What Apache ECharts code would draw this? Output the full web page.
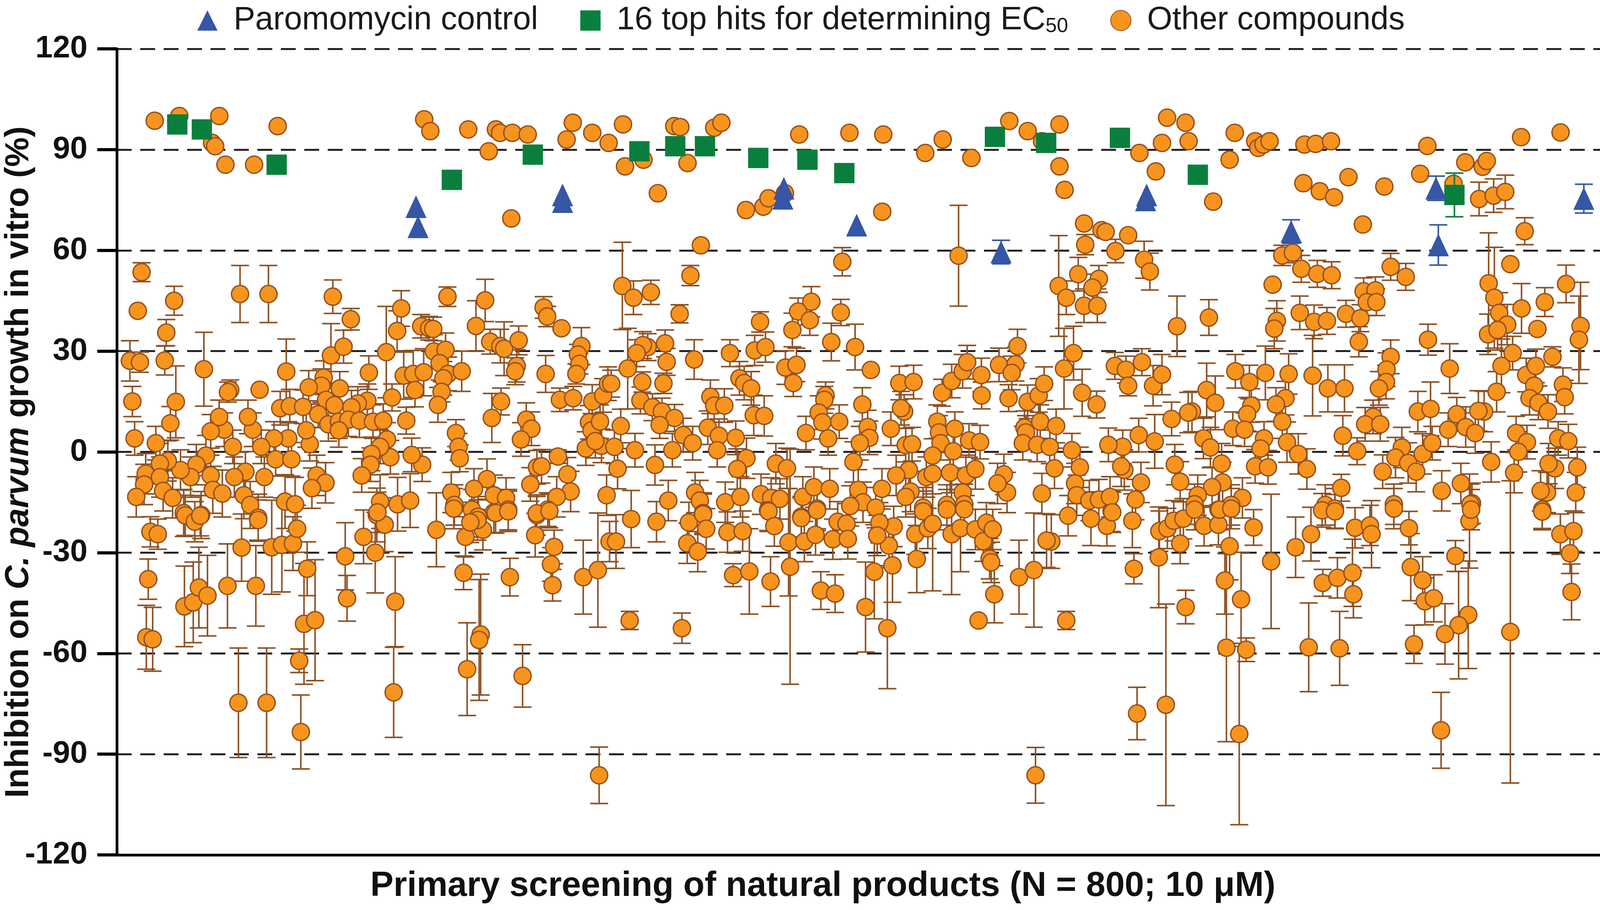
<!DOCTYPE html>
<html>
<head>
<meta charset="utf-8">
<script src="https://cdn.jsdelivr.net/npm/echarts@6/dist/echarts.min.js"></script>
<style>
  html, body { margin: 0; padding: 0; background: #fff; }
  #chart { width: 4112px; height: 2329px; }
</style>
</head>
<body>
<div id="chart"></div>
<script>
// position along the screening order (arbitrary units), inhibition %, error (+/-)
var yTicks = [-120, -90, -60, -30, 0, 30, 60, 90, 120];

var paromomycin = [
  [406, 73, 0], [408, 67, 0], [549, 76.5, 0], [549, 74.5, 0], [765, 78.5, 0], [764, 75.5, 0],
  [836, 67.5, 0], [977, 59.5, 3.5], [1119, 76.5, 0], [1118, 75, 0], [1260, 65.6, 3.5],
  [1401.4, 78.5, 3.6], [1403.7, 61.6, 6], [1545.7, 75.4, 4.3]
];

var topHits = [
  [173, 97.5, 0], [197, 96, 0], [270, 85.5, 0], [441, 81, 0], [520, 88.5, 0], [624, 89.5, 0],
  [659, 91, 0], [688, 91, 0], [740, 87.5, 0], [788, 87, 0], [824, 83, 0], [971, 93.8, 0],
  [1021, 92, 0], [1093, 93.5, 0], [1169, 82.5, 0], [1419.4, 76.5, 6.5]
];

// other compounds, high inhibition band
var otherHigh = [
  [151,98.6,0],[175,100,0],[207,92,0],[210,91,0],[214,100,0],[220,85.5,0],[248,85.5,0],[271,97,0],
  [414,99,0],[420,95.5,0],[457,96,0],[477,89.5,0],[484,96,0],[488,95,0],[499,69.5,0],[500,95,0],
  [515,94.5,0],[553,93,0],[559,98,0],[578,95,0],[594,92,0],[608,97.5,0],[610,85,0],[628,87,0],
  [642,77,0],[658,97,0],[664,96.7,0],[671,86,0],[684,61.5,0],[697,96.5,0],[704,98,0],[728,72,0],
  [745,73,0],[750,75.5,0],[766,77,0],[780,94.5,0],[829,95,0],[861,71.5,0],[862,94.5,0],[903,89,0],
  [920,93,0],[948,87.5,0],[985,98.5,0],[1003,95.5,0],[1017,92.5,0],[1034,97.5,0],[1034,85,0],
  [1039,78,0],[1058,68,0],[1075,66,0],[1079,65.5,0],[1101,64.5,0],[1112,89,0],[1128,83.5,0],
  [1134,92,0],[1139,99.5,0],[1157,98,0],[1160,92.5,0],[1184,74.5,0],[1200,87,0],[1205,95,0],
  [1225,92.5,0],[1228,90.5,0],[1233,91.5,0],[1239,92.5,0],[1273,91.5,0],[1284,91.7,0],[1299,92.5,0],
  [1272,80,0],[1288,77.6,0],[1302,75.8,0],[1316,81.8,0],[1330,67.7,0],[1351,79,0],[1393,91.1,0],
  [1386,82.8,0],[1418.6,79.8,0],[1430,86.2,0],[1447,84.9,0],[1451,86.6,0],[1443.5,75.3,5],
  [1457.7,76.3,5],[1469,77.4,5],[1484.5,93.7,0],[1523,95.1,0],[1488,65.7,4],[1474,55.9,0]
];

// other compounds, left third
var otherLeft = [
  [138.2,53.5,2.8],[134.5,42,0],[170,45,4.3],[234.3,47,8.5],[262,47,8.5],[324.8,46.2,5],[342.4,39.5,3.2],
  [162.3,35.5,3.9],[391.6,42.7,5.3],[387.6,36,6],[436.7,46.2,2.9],[473.5,45.1,6.3],[464.5,37.5,7.5],
  [411,37.4,3.5],[418.8,36.8,3.5],[422.8,36.6,3.5],[530.6,43,3.2],[534,40.3,3],[548,36.8,0],
  [478.4,32.8,3.7],[488.3,31.5,5],[492,30.7,8],[506.2,33.2,4.3],[567.4,31.5,5.5],[564,29,3],
  [565.5,26.2,3],[562.5,23.2,3],[504.3,25.6,4.8],[502.8,24,4],[532.5,23.2,5.5],[126.8,27.1,6],
  [136.6,26.7,3],[160.8,27.2,4.3],[199,24.6,11],[129.2,15,4.5],[171.6,14.9,10.7],[224.7,18.4,3],
  [222.5,17.8,3],[253.4,18.5,0],[279.4,23.9,9.7],[323,28.7,9.5],[335.3,31.3,4.9],[377,29.7,13.6],
  [360,23.6,5],[394,22.7,7],[403.3,23.2,7],[413.5,23.7,7],[423.4,29.9,5],[434.8,30.4,5],[429,26.4,5],
  [437.3,23.2,5],[432.7,21.9,5],[450.6,24,6],[405,18.4,5],[431,17.9,3],[427.4,14,5.2],[382.6,16.2,4],
  [315.9,22.1,5],[313.7,19.7,5],[301.3,19.2,5],[331.6,18.9,5],[318.3,15.5,5],[326.4,13.9,5],
  [358.5,15.2,5],[349.2,14.4,5],[343,13.3,5],[273.5,13,5],[282.8,13.6,5],[295.8,13.4,5],[310.6,11.2,4],
  [320.5,8.2,5],[330.7,9,5],[340,9.6,5],[330.7,6.4,5],[350.8,9.3,5],[364,9,5],[374,9.3,5],[396.5,9.3,4],
  [445,5.6,4],[447.5,1.5,4],[448.7,-1.9,4],[480,10.1,7.3],[489,15,4],[513.6,9.6,5],[518.6,6.9,5],
  [508.4,3.7,5],[546.4,15.5,3.5],[559.4,16,3.5],[578,15,5],[588.7,16.8,5],[593.3,20.3,5],[574.8,8.8,5],
  [577.3,6.4,5],[585.6,9,5],[571.7,1,5],[587,1.8,5],[581,3.2,5],[544.5,-1.4,2],[553.8,-6.7,5],
  [556.9,-11.8,6],[543.3,-13.4,6],[534.6,-17.2,5],[524,-4.6,5],[528.5,-4.3,5],[517.6,-9.7,5],
  [524,-18.8,6],[592,-12.9,6],[475.3,-8.1,6],[462.6,-11,6],[482,-12.9,6],[493.9,-13.7,6],[496,-17.2,6],
  [482,-18,6],[460.5,-17.2,6],[466.7,-19.3,6],[440.4,-12.1,6],[443.5,-15.8,6],[412,-3.8,5],[401.8,-0.9,5],
  [381,-1.6,5],[377.7,3.7,5],[370.9,1.5,5],[362.5,-0.6,5],[361.6,-3.8,5],[353,-7,5],[371,-14.8,8],
  [388,-15.6,8],[400.3,-14.5,8],[367.8,-18.8,8],[309,-7,6],[317.7,-9.2,6],[304.4,-10.8,6],[302.3,2.3,5],
  [298.9,6.4,5],[281.3,4,5],[267.4,4,5],[255,1.5,5],[269,-2.2,5],[284.4,-2.2,5],[278.2,-14.8,8],
  [288,-15.6,8],[246.7,6.6,5],[242,10.4,5],[227.2,1.5,5],[218.8,6.6,5],[205.6,6.1,5],[213.9,10.4,5],
  [239.5,-5.9,6],[228.7,-7.5,6],[258,-7.5,6],[238,-12.9,7],[244.2,-15.8,7],[252,-19.6,7],[201,-1.1,6],
  [191.6,-3.8,6],[186,-7.5,6],[176.2,-5.4,6],[205.6,-7,6],[207.7,-11.3,7],[217,-12.4,7],[166.3,8.5,5],
  [152.1,2.6,5],[131.4,4,5],[163.8,-2.7,6],[156.1,-3.5,6],[142.2,-6.5,6],[140.7,-9.7,6],[133,-13.4,6],
  [156.1,-7.5,6],[159.2,-11.6,6],[168.5,-13.7,6],[179.3,-18.2,7],[196.3,-18.8,7],
  [146.8,-23.8,4.5],[154,-24.5,4.5],[144.7,-37.9,6],[142.8,-55.2,9.5],[149,-55.8,9.5],[180,-46,12],
  [188.6,-44.8,12],[194.1,-40.4,12],[202.5,-42.8,12],[180.8,-18.9,6],[190.1,-20.8,6],[195.4,-19,6],
  [235.8,-28.5,10],[222,-39.9,12.5],[249.7,-39.9,12],[252,-20.3,6],[265.2,-28.4,14],[275.1,-27.7,14],
  [285.9,-27.3,8],[290,-22.9,7],[299.8,-34.8,8],[296.7,-51.2,18],[307.5,-50.1,18],[292,-62.2,3.5],
  [232.7,-74.7,16.3],[260.2,-74.7,16.3],[293.6,-83.4,11],[336.9,-31.1,10],[338.7,-43.6,6.8],
  [354.8,-25.3,8],[366.2,-30,12],[375.5,-21.7,8],[368.4,-18,6],[385.7,-44.6,13.4],[384.2,-71.6,13.4],
  [425.9,-23.2,11],[442.9,-16.9,6],[454.3,-25.3,6],[452.4,-36,5],[471.3,-23.2,6],[466,-20.3,6],
  [459,-21,6],[483.7,-18.2,6],[496,-17.7,6],[469.1,-54.4,18],[467.6,-56,18],[455.9,-64.7,13.8],
  [497.6,-37.3,5.6],[510,-66.7,9.3],[522.3,-24.8,6.5],[523.8,-18.3,5],[536.2,-17.6,5],[540.8,-28.3,5],
  [537.7,-33.5,5],[539.3,-39.7,4.7],[569.2,-37.3,11],[583.5,-35.2,17],[594.9,-26.7,6],[584.7,-96.3,8.4]
];

// other compounds, middle third
var otherMid = [
  [607.4,49.4,13],[618.2,45.9,5],[635.2,47.5,3.6],[673.8,52.5,3],[822,56.6,4.2],[935.5,58.4,15],
  [663.3,41.1,2.7],[741.8,38.7,3],[791.8,44.7,4.5],[778.9,41.8,4],[790.3,39.2,4.5],[773.3,36.3,5],
  [820.6,41.5,3.9],[811.3,32.7,5.6],[834.5,31.2,6.8],[849.9,24.4,0],[632.1,31.2,4],[627.4,31.8,4],
  [621.3,29.4,4],[649.1,32.3,4],[612.6,24.8,12],[650.6,26.8,4],[677.5,27.5,5.9],[626.8,20.8,3],
  [647.5,20.4,3],[596.5,20.3,4],[625,15.3,4],[636.7,13.3,4],[646,12,4],[658.3,10.1,4],[643.8,8,4],
  [605.8,7.7,5],[599.6,1.5,5],[619.7,0.5,5],[666.7,5,5],[676,2.6,5],[656.2,0.5,5],[602.7,-5,6],
  [639.2,-3.9,6],[652.2,-14.5,6],[678.4,-12.1,6],[683,-14.5,6],[686.2,-18.2,6],[712.4,29.4,4],
  [736.5,30.2,4.5],[747,31.2,4.5],[721.7,21.9,5],[726.3,20.5,5],[733.1,18.9,5],[693.3,16.4,5],
  [697,13.8,5],[706.9,13.8,5],[735.6,10.9,6],[745.8,10.7,6],[690.8,7.2,5],[701.6,4.8,5],[718,4.2,5],
  [700,0.5,5],[728.5,-1.9,6],[719.5,-5.1,6],[707.8,-15,6],[722.6,-13.4,6],[766.5,25.1,5],[777.3,25.9,5],
  [774.2,20.5,4],[805.7,16.8,4],[804.5,15.5,4],[799,11.7,5],[802.6,8.8,5],[819,9,5],[786.6,5.6,5],
  [808.2,4,5],[757.2,-3.5,6],[768,-4.9,6],[742.7,-12.6,6],[752.6,-13.7,6],[761.2,-14,6],[783.5,-13.4,6],
  [794.3,-10.5,6],[809.8,-11,6],[782,-19.3,6],[797.4,-16.9,6],[749.5,-17.4,6],[841.6,14.1,5],
  [846.8,7.4,5],[848.4,4.2,5],[839.1,2.6,5],[832.9,-3,6],[837.6,-11.3,6],[842.2,-15,6],[829.8,-16.1,6],
  [854.6,-16.6,6],[860.7,-11,6],[869.4,6.9,5],[877.7,20.5,5],[891.6,20.8,5],[882.4,12,5],[879.3,13,5],
  [883.9,2,5],[890.1,2.3,5],[887,-5.4,6],[874.6,-7,6],[888.6,-11.8,6],[883.9,-13.4,6],[900.9,-16.6,6],
  [919.4,17.6,4],[914.8,9,5],[916.4,5.8,5],[917.9,2.6,5],[910.2,-1.1,5],[931.8,6.9,5],[930.3,0.2,5],
  [904,-7.5,6],[910.2,-6.5,6],[927.2,-6.2,6],[942.6,-7,6],[951.9,-5.1,6],[924.1,-15.8,6],[939.5,-12.1,6],
  [941.1,-15.6,6],[928.8,21.1,5],[939.5,24,5],[943.9,26.7,5],[957.7,22.9,5],[958,16.8,4],[945.7,3.4,5],
  [956.5,2.9,5],[975,25.9,5],[991.1,26.1,5],[993,31.5,5],[987.4,23.5,5],[984.3,16,4],[979.7,-6.7,6],
  [982.8,-12.1,6],[973.5,-9.4,6],[1002.9,14.9,5],[1013.7,16.8,5],[1019,20.3,5],[999.8,7.2,5],
  [1001.3,5.8,5],[1015.2,9,5],[1030.7,7.7,5],[998.2,2.6,5],[1012.2,2.1,5],[1024.5,1.5,5],[1029.1,-4.9,6],
  [1016.8,-12.4,6],[1033.2,49.4,15],[1040.6,45.9,5],[1052.3,52.9,5],[1072.4,51.5,4],[1066.2,48.9,4],
  [1057.9,43.5,5],[1070.9,43.5,5],[1059.1,61.7,3],[1038.4,24.8,12],[1047.7,29.4,8],[1056.1,17.6,7],
  [1070.2,14.1,4],[1046.1,0.5,5],[1053.9,-4.6,6],[1049.2,-9.4,6],[1050.8,-12.9,6],[1063.1,-14.5,6],
  [1072.4,-14.2,6],[1042.4,-19,6],
  [601.2,-26.7,8],[616,-20,8.5],[640.7,-20.8,6],[672.3,-21,6],[686.2,-18.6,6],[689.2,-22.9,6],
  [670.7,-27.2,6],[681,-29.7,6],[710,-23.9,6],[724.8,-23.6,6],[715.5,-36.7,3.4],[731.3,-35.6,12.7],
  [752,-38.6,7.4],[750.1,-17.7,6],[755.7,-22.1,6],[769.6,-26.9,16],[771.1,-34.2,35],[782,-19.7,6],
  [785,-26.7,6],[795.9,-24.7,6],[797.4,-17.4,6],[801.1,-41.3,5.6],[815,-42.2,5.6],[812.8,-26,6],
  [817.5,-20.8,6],[826.1,-21.4,6],[827.4,-25.9,6],[844.7,-46.2,13.4],[853.3,-35.7,14],[866,-52.5,18],
  [871,-33.8,11],[867.5,-27.9,6],[872.2,-22.2,6],[858.3,-21.1,6],[856.1,-24.9,6],[894.7,-31.9,10],
  [893.2,-24.5,6],[900.9,-17.7,6],[905.5,-22.8,6],[910.2,-21.4,20],[928.7,-24.5,18],[937.4,-22.7,13],
  [924.1,-17.2,6],[941.1,-17.1,6],[951.9,-23.1,6],[959.6,-26.6,6],[962.7,-21.1,6],[968.9,-23.1,6],
  [965.8,-31.8,6],[967.3,-32.9,6],[970.4,-42.4,8.5],[955,-50.2,0],[994.5,-37.3,11],[1009,-35.2,17],
  [1026,-26.7,8],[1021.4,-26.4,8],[1064.7,-19.9,8],[1040.6,-50.2,2.7],[614.5,-50.2,2.7],
  [665.5,-52.5,4.5],[1010.6,-96.3,8.3]
];

// other compounds, right third
var otherRight = [
  [1088.6,59.8,3.5],[1116.6,57.2,5.5],[1122.2,53.7,5.5],[1251.4,58.5,3],[1261.7,59.3,3],[1270,54.5,4],
  [1285.6,53,4],[1299.6,52.6,4],[1242,49.8,0],[1357.2,55.1,4],[1371.9,52.1,4],[1330.8,47.8,4],
  [1342.3,48.1,4],[1333.9,44.6,4],[1343.2,44.6,4],[1452.8,50.2,15],[1458.4,45.9,15],[1463.1,41.4,6],
  [1470.9,37.9,6],[1452.2,35,6],[1461.5,36.3,6],[1484.9,42.7,7.4],[1507.6,44.6,4.3],[1528.4,50,5.6],
  [1500.4,36.6,0],[1542.5,37.5,13],[1540.9,33.4,13],[1148.7,37.4,9],[1179.8,40,5.3],[1246.1,39,6],
  [1243.6,36.7,6],[1268.5,41.4,5],[1282.5,38.7,5],[1295,39,4],[1313.6,41.1,4],[1327.7,39.8,4],
  [1326.1,32.8,4.5],[1393.6,33.4,4.6],[1414.8,24.8,7.4],[1357.2,28.3,5],[1353.2,24.5,5],[1352.6,20.8,5],
  [1345.7,18.9,5],[1088,25.6,4],[1098.8,24.5,4],[1114.4,26.7,4],[1101,19.7,3],[1125.3,19.7,6],
  [1134,23,6],[1177.6,18.4,8],[1186,14.6,8],[1163.3,12,6],[1159.6,11.7,6],[1205.6,24,5],[1219.3,20.8,5],
  [1234.9,23.5,8],[1257.6,23.2,6],[1281,22.7,12],[1295.9,18.9,7],[1312.1,18.9,7],[1221.2,13.8,5],
  [1217.1,11.2,5],[1254.5,16,5],[1245.2,14.1,5],[1251.4,9,5],[1143.4,9.8,5],[1111.3,5,5],[1126.9,3.1,8],
  [1095.7,1.5,5],[1081.7,2.1,5],[1097.3,-5.4,6],[1094.2,-4.3,6],[1146.5,-3.8,6],[1151.8,-8.9,6],
  [1113.5,-9.1,6],[1108.2,-14.2,6],[1084.8,-17.7,6],[1083.3,-13.4,6],[1174.5,4,6],[1181.3,1.3,6],
  [1192.2,-3.5,6],[1193.2,-9.1,6],[1182.9,-10.5,6],[1168.9,-12.9,6],[1165.8,-15.6,6],[1212.5,-13.7,6],
  [1201.6,-15.8,6],[1189.1,-17.2,6],[1203.1,6.9,5],[1214.6,6.6,5],[1233.6,4,5],[1230.2,1,5],
  [1224.9,-4.3,5],[1237.4,-4.6,5],[1256,2.9,6],[1267,-0.6,6],[1275.4,-5.1,6],[1310.5,4.8,6],
  [1324.5,0.2,4],[1309,-10.7,4],[1293.4,-15.8,6],[1302.8,-16.9,6],[1340.1,10.4,5],[1332.3,8.2,5],
  [1347,8.2,5],[1368.1,1.3,6],[1361.9,-1.7,6],[1374.3,-3.3,6],[1382.1,-5.9,6],[1388.4,-0.6,6],
  [1349.4,-5.9,5],[1360.3,-15.6,6],[1383.7,12,6],[1396.1,12.8,8],[1397.7,2.6,5],[1413.3,6.6,5],
  [1421.7,11.2,5],[1430.4,7.4,6],[1439.7,5.6,6],[1448.4,12,6],[1442.8,12.2,6],[1407,-11.6,6],
  [1425.7,-9.4,6],[1436.6,-15.3,6],[1455.3,-3,6],[1460.6,17.9,6],[1465.3,25.6,8],[1476.2,29.4,5],
  [1479.6,5.6,5],[1490.2,2.9,5],[1481.8,0,6],[1477.7,-6.2,6],[1489.5,22.9,5],[1497.3,19.7,5],
  [1498.9,25.6,5],[1492.7,16,5],[1501.4,14.6,5],[1510.7,12,5],[1515.1,28.3,3],[1525.3,20,5],
  [1527,16.3,5],[1520.7,4,5],[1530.6,3.2,5],[1517.6,-4.9,6],[1539.3,-4.6,6],[1511.3,-3.5,6],
  [1509.8,-12.1,6],[1503.5,-11.6,6],[1537.8,-12.1,6],[1505.1,-17.2,6],[1435,-15.6,6],
  [1080.2,-22,6],[1085.5,-18,6],[1105.1,-20.5,8],[1106.6,-34.8,4.5],[1130.9,-31.4,15],[1131.5,-23.6,6],
  [1139.3,-22.8,6],[1145.5,-20.5,6],[1154.9,-19.9,6],[1151.8,-27.3,6],[1157.1,-46.2,5],
  [1137.8,-75.3,30],[1109.7,-77.9,7.8],[1165.8,-17.2,6],[1175.1,-22,6],[1189.1,-21.7,6],
  [1190.1,-17.2,6],[1201.6,-16.9,6],[1200,-28.1,10],[1195.4,-38.3,10],[1211.2,-43.9,14],
  [1223.4,-22.5,5.3],[1196.9,-58.3,28],[1216.2,-58.9,3.5],[1209.4,-84,27],[1240.5,-32.6,20],
  [1264.4,-28.4,9],[1279.4,-24.5,8],[1277.2,-58.2,13.2],[1307.4,-58.5,11],[1290.9,-39,4],
  [1305.2,-37.5,6],[1319.9,-36,10],[1320.8,-42.4,7],[1290.3,-17.4,5],[1302.8,-17.7,5],
  [1322.4,-22.6,6],[1337,-21.9,6],[1338.5,-24.5,10],[1360.3,-16.9,6],[1375,-22.7,5],
  [1376.8,-34.3,10],[1388.4,-38.2,7],[1390.5,-44.5,7],[1399.3,-43.6,7],[1380,-57.3,5.7],
  [1420.4,-31,4.6],[1434.1,-20.6,14],[1432.9,-48.5,16],[1423.5,-51.6,16],[1410.2,-54.2,9],
  [1406.4,-82.9,11.3],[1435.7,-17.2,6],[1474,-53.6,45],[1505.1,-17.8,5],[1522.8,-24.5,6],
  [1535.6,-23.6,6],[1532.2,-30.2,6],[1533.7,-41.7,8.3]
];

var otherCompounds = otherHigh.concat(otherLeft, otherMid, otherRight);

var PARO = 'Paromomycin control';
var HITS = '16 top hits for determining EC50';
var OTHER = 'Other compounds';

var chart = echarts.init(document.getElementById('chart'));

function errorBars(color) {
  return function (params, api) {
    var e = api.value(2);
    if (!e) return;
    var x = api.value(0), y = api.value(1);
    var top = api.coord([x, y + e]);
    var bot = api.coord([x, y - e]);
    var hw = 23;
    var st = { stroke: color, lineWidth: 4 };
    return {
      type: 'group',
      children: [
        { type: 'line', shape: { x1: top[0], y1: top[1], x2: bot[0], y2: bot[1] }, style: st },
        { type: 'line', shape: { x1: top[0] - hw, y1: top[1], x2: top[0] + hw, y2: top[1] }, style: st },
        { type: 'line', shape: { x1: bot[0] - hw, y1: bot[1], x2: bot[0] + hw, y2: bot[1] }, style: st }
      ]
    };
  };
}

var orangeFill = '#F7941D', orangeEdge = '#94501E', barBrown = '#8E5225';
var green = '#0A7F3D', blue = '#3656A6';

var option = {
  animation: false,
  backgroundColor: '#fff',
  textStyle: { fontFamily: 'Liberation Sans, Arial, sans-serif' },
  grid: { left: 299, right: 12, top: 125, bottom: 141, containLabel: false, outerBoundsMode: 'none' },
  legend: {
    data: [PARO, HITS, OTHER],
    left: 500,
    top: 6,
    itemWidth: 52,
    itemHeight: 52,
    itemGap: 108,
    formatter: function (name) {
      return name === HITS ? '16 top hits for determining EC{sub|50}' : name;
    },
    textStyle: {
      fontSize: 83,
      color: '#1a1a1a',
      padding: [0, 0, 0, 36],
      rich: {
        sub: { fontSize: 52, verticalAlign: 'bottom', lineHeight: 40, color: '#1a1a1a' }
      }
    }
  },
  xAxis: {
    type: 'value',
    min: 114,
    max: 1563,
    name: 'Primary screening of natural products (N = 800; 10 \u03bcM)',
    nameLocation: 'middle',
    nameGap: 36,
    nameMoveOverlap: false,
    nameTextStyle: { fontSize: 89, fontWeight: 'bold', color: '#111', padding: [0, 186, 0, 0] },
    axisLine: { show: true, onZero: false, lineStyle: { color: '#000', width: 7 } },
    axisTick: { show: false },
    axisLabel: { show: false },
    splitLine: { show: false }
  },
  yAxis: {
    type: 'value',
    min: yTicks[0],
    max: yTicks[yTicks.length - 1],
    interval: 30,
    name: 'Inhibition on {i|C. parvum} growth in vitro (%)',
    nameLocation: 'middle',
    nameRotate: 90,
    nameGap: 208,
    nameMoveOverlap: false,
    nameTextStyle: {
      fontSize: 85, fontWeight: 'bold', color: '#111', padding: [0, 52, 0, 0],
      rich: { i: { fontSize: 85, fontWeight: 'bold', fontStyle: 'italic', color: '#111' } }
    },
    axisLine: { show: true, onZero: false, lineStyle: { color: '#000', width: 7 } },
    axisTick: { show: true, length: 50, lineStyle: { color: '#000', width: 8 } },
    axisLabel: { fontSize: 80, fontWeight: 'bold', color: '#111', margin: 75 },
    splitLine: { show: true, lineStyle: { color: '#222', width: 5, type: [38, 22] } }
  },
  series: [
    {
      name: 'otherErr', type: 'custom', renderItem: errorBars(barBrown),
      data: otherCompounds, encode: { x: 0, y: 1 }, z: 2, silent: true
    },
    {
      name: OTHER, type: 'scatter', data: otherCompounds, symbol: 'circle', symbolSize: 44,
      itemStyle: { color: orangeFill, borderColor: orangeEdge, borderWidth: 3.5, opacity: 1 }, z: 3
    },
    {
      name: 'hitErr', type: 'custom', renderItem: errorBars(green),
      data: topHits, encode: { x: 0, y: 1 }, z: 4, silent: true
    },
    {
      name: HITS, type: 'scatter', data: topHits, symbol: 'rect', symbolSize: 52,
      itemStyle: { color: green, opacity: 1 }, z: 5
    },
    {
      name: 'paroErr', type: 'custom', renderItem: errorBars(blue),
      data: paromomycin, encode: { x: 0, y: 1 }, z: 4, silent: true
    },
    {
      name: PARO, type: 'scatter', data: paromomycin, symbol: 'triangle', symbolSize: [54, 58],
      itemStyle: { color: blue, opacity: 1 }, z: 5
    }
  ]
};

chart.setOption(option);
</script>
</body>
</html>
